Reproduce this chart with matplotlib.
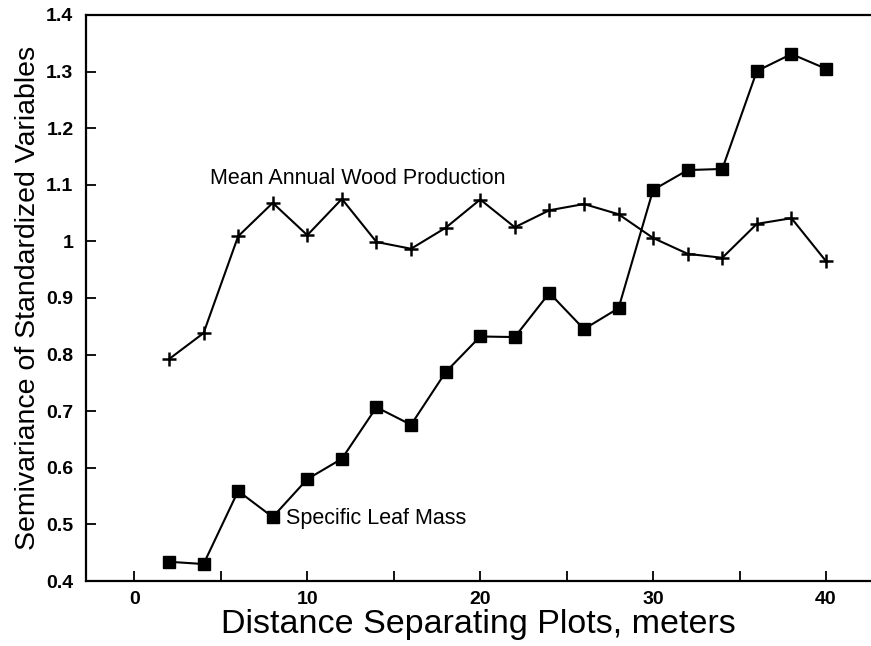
import matplotlib.pyplot as plt
from matplotlib.ticker import MultipleLocator

plt.rcParams['font.family'] = ['Liberation Sans', 'DejaVu Sans']

# Distance between plots (m)
distance = [2, 4, 6, 8, 10, 12, 14, 16, 18, 20,
            22, 24, 26, 28, 30, 32, 34, 36, 38, 40]

# Semivariance, mean annual wood production (crosses)
wood_production = [0.792, 0.838, 1.009, 1.068, 1.011, 1.075, 0.999, 0.987, 1.024, 1.074,
                   1.025, 1.055, 1.066, 1.048, 1.006, 0.978, 0.971, 1.031, 1.041, 0.965]

# Semivariance, specific leaf mass (squares)
leaf_mass = [0.434, 0.430, 0.559, 0.513, 0.580, 0.616, 0.707, 0.676, 0.769, 0.832,
             0.831, 0.909, 0.845, 0.882, 1.091, 1.126, 1.128, 1.301, 1.331, 1.305]

y_ticks = [0.4, 0.5, 0.6, 0.7, 0.8, 0.9, 1.0, 1.1, 1.2, 1.3, 1.4]
y_tick_labels = ["0.4", "0.5", "0.6", "0.7", "0.8", "0.9", "1", "1.1", "1.2", "1.3", "1.4"]

fig = plt.figure(figsize=(8.71, 6.46), dpi=100)
ax = fig.add_axes([0.0987, 0.1006, 0.9013, 0.8762])

ax.plot(distance, wood_production, color="black", lw=1.5,
        marker="+", markersize=10, markeredgewidth=1.8)
ax.plot(distance, leaf_mass, color="black", lw=1.5,
        marker="s", markersize=9)

ax.text(4.4, 1.112, "Mean Annual Wood Production", fontsize=15.5,
        va="center", ha="left")
ax.text(8.75, 0.511, "Specific Leaf Mass", fontsize=15.5,
        va="center", ha="left")

ax.set_xlim(-2.8, 42.6)
ax.set_ylim(0.4, 1.4)
ax.xaxis.set_major_locator(MultipleLocator(10))
ax.xaxis.set_minor_locator(MultipleLocator(5))
ax.set_yticks(y_ticks)
ax.set_yticklabels(y_tick_labels)

ax.tick_params(axis="both", which="both", direction="in", width=1.3,
               labelsize=14, pad=9)
ax.tick_params(axis="x", which="both", pad=7)
ax.tick_params(axis="both", which="major", length=7.5)
ax.tick_params(axis="x", which="minor", length=7.5)
for lab in ax.get_xticklabels() + ax.get_yticklabels():
    lab.set_fontweight("bold")

for side in ["left", "bottom", "top"]:
    ax.spines[side].set_linewidth(1.6)
ax.spines["right"].set_visible(False)

ax.set_xlabel("Distance Separating Plots, meters", fontsize=24.5, labelpad=1)
ax.set_ylabel("Semivariance of Standardized Variables", fontsize=20.5, labelpad=4)

fig.savefig("out.png", dpi=100)
